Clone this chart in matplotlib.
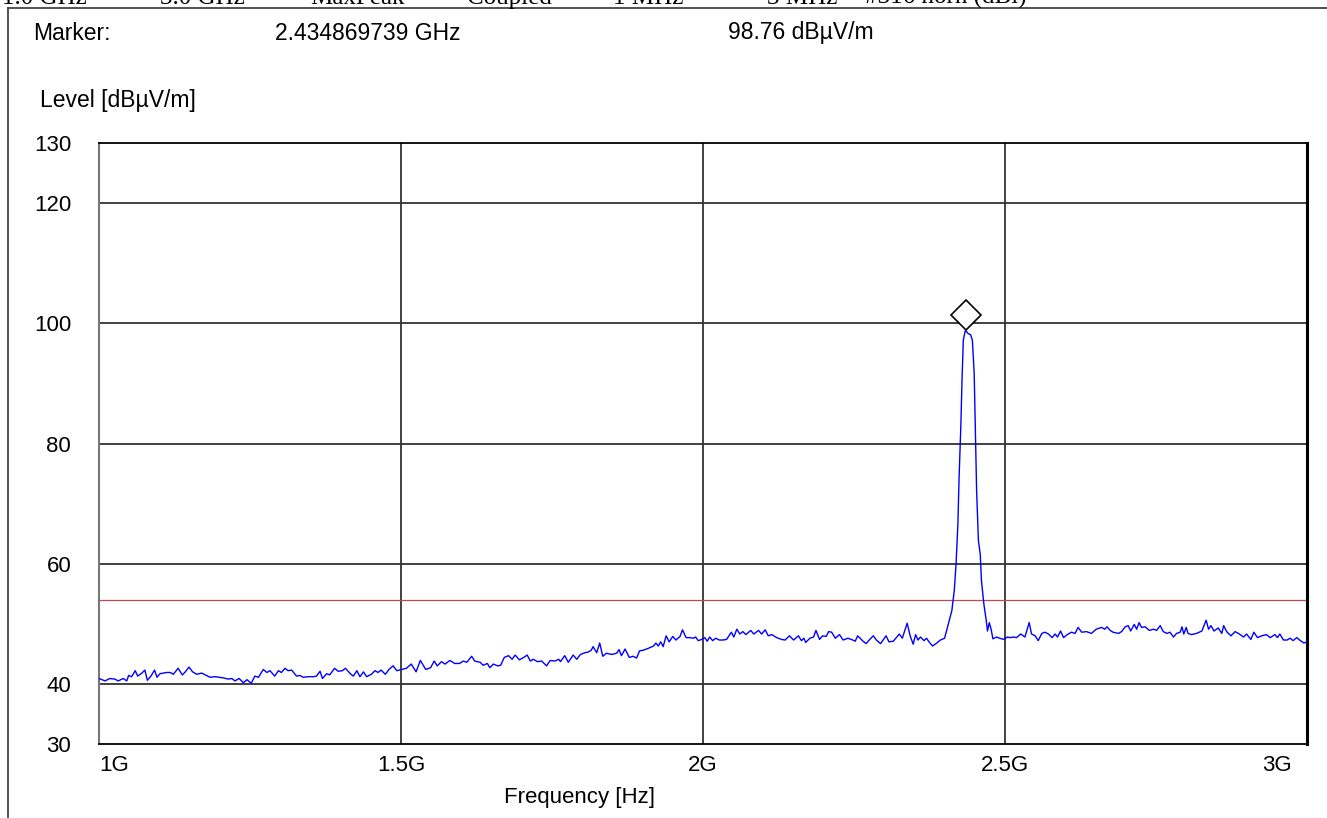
#Spectrum plot: radiated emission scan 1 GHz - 3 GHz with marker on the peak
import numpy as np
import matplotlib.pyplot as plt
from matplotlib.lines import Line2D
from matplotlib.transforms import ScaledTranslation

plt.rcParams['font.family'] = ['Liberation Sans', 'DejaVu Sans']

#Trace: frequency in GHz, level in dBuV/m
freq_ghz = [
    1.000, 1.010, 1.018, 1.026, 1.032, 1.040, 1.046, 1.049, 1.054, 1.060,
    1.064, 1.071, 1.076, 1.080, 1.086, 1.092, 1.096, 1.101, 1.112, 1.118,
    1.123, 1.131, 1.138, 1.142, 1.149, 1.155, 1.162, 1.170, 1.178, 1.184,
    1.192, 1.199, 1.206, 1.214, 1.220, 1.225, 1.232, 1.239, 1.245, 1.252,
    1.258, 1.264, 1.272, 1.278, 1.283, 1.291, 1.297, 1.302, 1.308, 1.313,
    1.319, 1.327, 1.333, 1.338, 1.347, 1.355, 1.360, 1.366, 1.370, 1.377,
    1.382, 1.390, 1.396, 1.403, 1.408, 1.416, 1.421, 1.427, 1.432, 1.438,
    1.443, 1.451, 1.457, 1.462, 1.467, 1.474, 1.480, 1.487, 1.493, 1.501,
    1.509, 1.517, 1.525, 1.532, 1.541, 1.549, 1.555, 1.560, 1.567, 1.573,
    1.581, 1.589, 1.597, 1.603, 1.609, 1.617, 1.622, 1.631, 1.636, 1.643,
    1.647, 1.653, 1.660, 1.665, 1.671, 1.678, 1.684, 1.689, 1.696, 1.703,
    1.709, 1.714, 1.719, 1.726, 1.733, 1.741, 1.747, 1.755, 1.761, 1.764,
    1.771, 1.777, 1.785, 1.791, 1.797, 1.805, 1.810, 1.815, 1.818, 1.824,
    1.829, 1.834, 1.840, 1.849, 1.857, 1.861, 1.865, 1.871, 1.878, 1.884,
    1.890, 1.895, 1.901, 1.909, 1.918, 1.922, 1.926, 1.930, 1.934, 1.939,
    1.944, 1.950, 1.955, 1.962, 1.966, 1.972, 1.978, 1.984, 1.988, 1.992,
    1.998, 2.003, 2.007, 2.011, 2.016, 2.021, 2.027, 2.033, 2.039, 2.047,
    2.051, 2.056, 2.061, 2.066, 2.071, 2.079, 2.084, 2.092, 2.097, 2.103,
    2.108, 2.114, 2.122, 2.130, 2.136, 2.143, 2.150, 2.158, 2.163, 2.167,
    2.170, 2.177, 2.183, 2.187, 2.193, 2.198, 2.204, 2.208, 2.213, 2.219,
    2.226, 2.232, 2.240, 2.248, 2.252, 2.256, 2.260, 2.265, 2.270, 2.276,
    2.282, 2.287, 2.294, 2.303, 2.308, 2.315, 2.320, 2.325, 2.330, 2.338,
    2.343, 2.348, 2.352, 2.356, 2.360, 2.366, 2.370, 2.375, 2.380, 2.387,
    2.393, 2.400, 2.406, 2.412, 2.416, 2.419, 2.422, 2.424, 2.427, 2.429,
    2.431, 2.434, 2.435, 2.439, 2.443, 2.446, 2.449, 2.451, 2.453, 2.456,
    2.459, 2.461, 2.465, 2.469, 2.471, 2.474, 2.477, 2.480, 2.486, 2.491,
    2.498, 2.504, 2.508, 2.514, 2.519, 2.526, 2.533, 2.540, 2.544, 2.550,
    2.555, 2.561, 2.566, 2.572, 2.578, 2.583, 2.587, 2.592, 2.597, 2.603,
    2.610, 2.616, 2.621, 2.627, 2.635, 2.643, 2.651, 2.660, 2.665, 2.669,
    2.674, 2.679, 2.688, 2.693, 2.699, 2.704, 2.708, 2.714, 2.718, 2.722,
    2.726, 2.732, 2.739, 2.746, 2.751, 2.757, 2.762, 2.768, 2.773, 2.779,
    2.784, 2.790, 2.793, 2.796, 2.800, 2.803, 2.809, 2.817, 2.826, 2.833,
    2.837, 2.841, 2.846, 2.853, 2.859, 2.862, 2.867, 2.874, 2.881, 2.888,
    2.895, 2.900, 2.907, 2.912, 2.918, 2.925, 2.933, 2.939, 2.947, 2.951,
    2.955, 2.961, 2.967, 2.972, 2.977, 2.983, 2.989, 2.995, 3.000,
]
level = [
    40.9, 40.5, 40.9, 40.8, 40.5, 40.9, 40.5, 41.4, 41.2, 42.2,
    41.3, 41.8, 42.3, 40.6, 41.3, 42.3, 41.1, 41.7, 41.9, 41.9,
    41.6, 42.6, 41.5, 41.9, 42.8, 42.0, 41.6, 41.8, 41.4, 41.1,
    41.2, 41.1, 41.0, 40.8, 40.9, 40.5, 40.9, 40.2, 40.7, 40.1,
    41.3, 41.1, 42.4, 41.9, 42.2, 41.3, 42.2, 41.9, 42.6, 42.2,
    42.3, 41.3, 41.4, 41.1, 41.2, 41.2, 41.3, 42.1, 40.9, 41.7,
    41.5, 42.6, 42.1, 42.2, 42.6, 41.7, 41.3, 42.2, 41.2, 42.0,
    41.2, 41.6, 42.2, 41.9, 42.3, 41.6, 42.4, 43.0, 42.2, 42.4,
    42.6, 43.3, 42.0, 43.9, 42.4, 42.7, 43.8, 43.0, 43.7, 43.3,
    43.9, 43.4, 43.4, 43.8, 43.6, 44.6, 43.8, 43.6, 43.1, 43.4,
    42.7, 43.3, 43.0, 43.1, 44.4, 44.7, 44.1, 44.8, 44.0, 44.4,
    44.8, 43.8, 44.1, 43.7, 43.8, 43.0, 43.9, 43.8, 44.1, 43.7,
    44.7, 43.6, 44.8, 44.1, 44.9, 45.2, 45.3, 45.6, 46.2, 45.2,
    46.8, 44.6, 45.1, 44.9, 45.1, 45.7, 44.7, 45.8, 44.4, 44.6,
    44.3, 45.5, 45.6, 45.9, 46.3, 46.8, 46.3, 47.0, 46.2, 48.0,
    47.0, 47.9, 47.3, 47.9, 49.0, 47.7, 47.7, 47.6, 47.8, 47.2,
    47.4, 47.7, 47.1, 47.8, 47.2, 47.6, 47.3, 47.3, 47.4, 48.6,
    47.8, 49.1, 48.3, 48.7, 48.2, 48.9, 48.3, 48.9, 48.3, 49.0,
    48.0, 48.2, 47.7, 47.4, 47.3, 48.0, 47.3, 48.0, 47.2, 47.6,
    46.9, 47.6, 47.8, 48.9, 47.4, 48.0, 47.9, 48.7, 48.6, 47.6,
    48.2, 47.3, 47.6, 47.3, 47.1, 48.0, 47.6, 47.1, 46.7, 47.4,
    48.0, 47.3, 46.7, 48.0, 47.0, 47.1, 47.7, 48.3, 47.6, 50.1,
    48.0, 46.6, 48.2, 47.3, 47.8, 47.2, 47.6, 46.9, 46.3, 46.8,
    47.3, 47.6, 49.9, 52.2, 55.5, 60.0, 66.6, 74.4, 83.3, 91.1,
    97.2, 98.7, 98.76, 98.3, 98.1, 97.2, 91.6, 81.6, 72.2, 63.8,
    61.6, 57.2, 53.3, 50.5, 48.8, 50.2, 49.1, 47.5, 47.8, 47.6,
    47.4, 47.8, 47.7, 47.8, 47.7, 48.3, 47.8, 50.2, 48.3, 48.0,
    47.2, 48.4, 48.6, 48.3, 47.7, 48.3, 47.8, 48.8, 47.7, 48.2,
    48.6, 48.4, 49.4, 48.6, 48.7, 48.4, 49.1, 49.4, 49.1, 49.5,
    48.9, 48.6, 48.4, 48.7, 49.5, 49.7, 48.8, 49.9, 49.1, 50.2,
    49.4, 49.5, 48.9, 49.1, 48.9, 49.7, 48.7, 48.4, 48.6, 47.8,
    48.4, 48.6, 49.5, 48.3, 49.4, 48.4, 48.2, 48.4, 48.8, 50.6,
    49.1, 49.7, 48.8, 49.3, 48.4, 49.7, 48.7, 48.0, 48.7, 48.3,
    47.8, 48.3, 47.4, 48.6, 47.7, 48.0, 48.2, 47.7, 48.2, 47.7,
    48.3, 47.3, 47.3, 47.6, 47.2, 47.7, 47.2, 46.8, 47.0,
]

#Limit line and marker
limit_level = 54.0
marker_freq = 2.434869739
marker_level = 98.76

#Axis ticks and labels
x_ticks = [1.0, 1.5, 2.0, 2.5, 3.0]
x_labels = ['1G', '1.5G', '2G', '2.5G', '3G']
y_ticks = [30, 40, 60, 80, 100, 120, 130]

#Header line (only lower half is visible in the original page)
header = ['1.0 GHz', '3.0 GHz', 'MaxPeak', 'Coupled', '1 MHz', '3 MHz', '#316 horn (dBi)']
header_x = [2, 160, 310, 467, 613, 767, 865]

W, H = 1327, 818
fig = plt.figure(figsize=(W/100, H/100), dpi=100)
ax = fig.add_axes([99/W, 1-744/H, (1307-99)/W, (744-143)/H])

#Grid lines
for f in x_ticks[1:-1]:
    ax.axvline(f, color='#333333', lw=1.3, zorder=1)
for v in y_ticks[1:-1]:
    ax.axhline(v, color='#333333', lw=1.3, zorder=1)

ax.axhline(limit_level, color='#c04848', lw=0.9, zorder=2)
ax.plot(freq_ghz, level, color='#0000ff', lw=1.0, zorder=3)

#Diamond marker sitting on top of the peak
up = ScaledTranslation(0, 16/100, fig.dpi_scale_trans)
ax.plot([marker_freq], [marker_level], marker='D', ms=15.5, mfc='white',
        mec='black', mew=1.2, transform=ax.transData + up, zorder=4, clip_on=False)

ax.set_xlim(1.0, 3.0)
ax.set_ylim(30, 130)
ax.set_xticks(x_ticks)
ax.set_xticklabels(x_labels)
ax.set_yticks(y_ticks)
ax.tick_params(length=0, labelsize=16)
ax.tick_params(axis='y', pad=20)
ax.tick_params(axis='x', pad=8)
xl = ax.get_xticklabels()
xl[0].set_horizontalalignment('left')
xl[-1].set_horizontalalignment('right')
xl[-1].set_transform(xl[-1].get_transform() + ScaledTranslation(-15/100, 0, fig.dpi_scale_trans))

for side in ['top', 'bottom']:
    ax.spines[side].set_color('black')
    ax.spines[side].set_linewidth(1.3)
ax.spines['left'].set_color('#777777')
ax.spines['left'].set_linewidth(1.5)
ax.spines['right'].set_color('black')
ax.spines['right'].set_linewidth(2.2)

fig.text(580/W, 1-797/H, 'Frequency [Hz]', fontsize=16, ha='center', va='center')

#Texts above the plot
fig.text(33/W, 1-33/H, 'Marker:', fontsize=16.5, va='center')
fig.text(275/W, 1-33/H, '2.434869739 GHz', fontsize=16.5, va='center')
fig.text(728/W, 1-33/H, '98.76 dBµV/m', fontsize=16.5, va='center')
fig.text(40/W, 1-100/H, 'Level [dBµV/m]', fontsize=16.5, va='center')

for t, x in zip(header, header_x):
    fig.text(x/W, 1-4/H, t, fontsize=18, family='Liberation Serif', va='baseline')

#Page frame lines
fig.add_artist(Line2D([8/W, 1], [1-8/H, 1-8/H], color='#444444', lw=1.3))
fig.add_artist(Line2D([8/W, 8/W], [0, 1-8/H], color='#444444', lw=1.3))

plt.savefig('out.png', dpi=100)
